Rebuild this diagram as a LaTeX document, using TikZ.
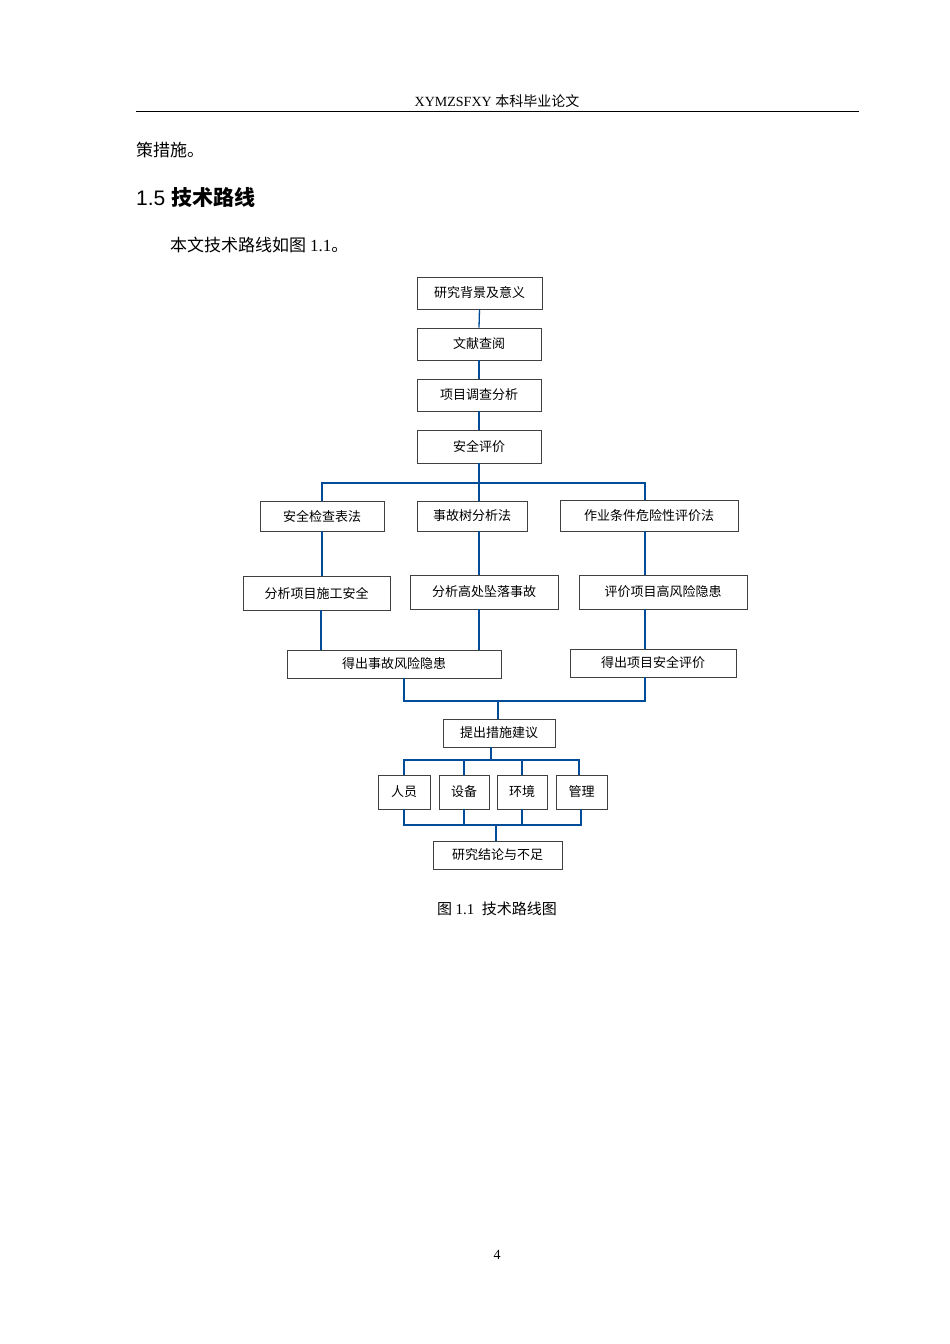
\documentclass[tikz,border=0pt]{standalone}
\usepackage{fontspec}
\setmainfont{Liberation Serif}
\newfontfamily\cjk{Noto Sans CJK SC}
\newfontfamily\hd{Liberation Sans}
\begin{document}
\begin{tikzpicture}[x=1pt,y=-1pt,
 bx/.style={draw=black!75,line width=0.8pt,inner sep=0pt,font=\cjk\fontsize{13}{13}\selectfont},
 ln/.style={draw=blue!50!cyan!60!black,line width=1.3pt}]
\useasboundingbox[fill=white] (0,0) rectangle (950,1344);
\newcommand{\bxx}[6]{\node[bx,minimum width=#4-#2,minimum height=#5-#3] (#1) at ({(#2+#4)/2},{(#3+#5)/2}) {#6};}
\bxx{a}{417}{277}{542}{309}{研究背景及意义}
\bxx{b}{417}{328}{541}{360}{文献查阅}
\bxx{c}{417}{379}{541}{411}{项目调查分析}
\bxx{d}{417}{430}{541}{463}{安全评价}
\bxx{e1}{260}{501}{384}{531}{安全检查表法}
\bxx{e2}{417}{501}{527}{531}{事故树分析法}
\bxx{e3}{560}{500}{738}{531}{作业条件危险性评价法}
\bxx{f1}{243}{576}{390}{610}{分析项目施工安全}
\bxx{f2}{410}{575}{558}{609}{分析高处坠落事故}
\bxx{f3}{579}{575}{747}{609}{评价项目高风险隐患}
\bxx{g1}{287}{650}{501}{678}{得出事故风险隐患}
\bxx{g2}{570}{649}{736}{677}{得出项目安全评价}
\bxx{h}{443}{719}{555}{747}{提出措施建议}
\bxx{i1}{378}{775}{430}{809}{人员}
\bxx{i2}{439}{775}{489}{809}{设备}
\bxx{i3}{497}{775}{547}{809}{环境}
\bxx{i4}{556}{775}{607}{809}{管理}
\bxx{j}{433}{841}{562}{869}{研究结论与不足}
\draw[ln] (a.south) -- (b.north);
\draw[ln] (b.south) -- (c.north);
\draw[ln] (c.south) -- (d.north);
\draw[ln] (d.south) -- (479,483);
\draw[ln] (e1.north-|322,0) -- (322,483) -- (645,483) -- (e3.north-|645,0);
\draw[ln] (479,483) -- (e2.north-|479,0);
\draw[ln] (e1.south-|322,0) -- (f1.north-|322,0);
\draw[ln] (e2.south-|479,0) -- (f2.north-|479,0);
\draw[ln] (e3.south-|645,0) -- (f3.north-|645,0);
\draw[ln] (f1.south-|321,0) -- (g1.north-|321,0);
\draw[ln] (f2.south-|479,0) -- (g1.north-|479,0);
\draw[ln] (f3.south-|645,0) -- (g2.north-|645,0);
\draw[ln] (g1.south-|404,0) -- (404,701) -- (645,701) -- (g2.south-|645,0);
\draw[ln] (498,701) -- (h.north-|498,0);
\draw[ln] (h.south-|491,0) -- (491,760);
\draw[ln] (i1.north-|404,0) -- (404,760) -- (579,760) -- (i4.north-|579,0);
\draw[ln] (i2.north-|464,0) -- (464,760);
\draw[ln] (i3.north-|522,0) -- (522,760);
\draw[ln] (i1.south-|404,0) -- (404,825) -- (581,825) -- (i4.south-|581,0);
\draw[ln] (i2.south-|464,0) -- (464,825);
\draw[ln] (i3.south-|522,0) -- (522,825);
\draw[ln] (496,825) -- (j.north-|496,0);
% page
\node (hdr) at (497,101) {\fontsize{14}{14}\selectfont XYMZSFXY {\cjk 本科毕业论文}};
\draw[line width=0.6pt] (136,111) -- (859,111);
\node[anchor=west,inner sep=0pt] (t1) at (136,150) {\cjk\fontsize{17}{17}\selectfont 策措施。};
\node[anchor=west,inner sep=0pt] (t2) at (136,197) {\fontsize{21}{21}\selectfont{\hd 1.5 }{\cjk\bfseries 技术路线}};
\node[anchor=west,inner sep=0pt] (t3) at (170,245) {\fontsize{17}{17}\selectfont{\cjk 本文技术路线如图 }1.1{\cjk 。}};
\node (cap) at (497,909) {\fontsize{15}{15}\selectfont{\cjk 图 }1.1\ \ {\cjk 技术路线图}};
\node (pg) at (497,1255) {\fontsize{14}{14}\selectfont 4};
\end{tikzpicture}
\end{document}
